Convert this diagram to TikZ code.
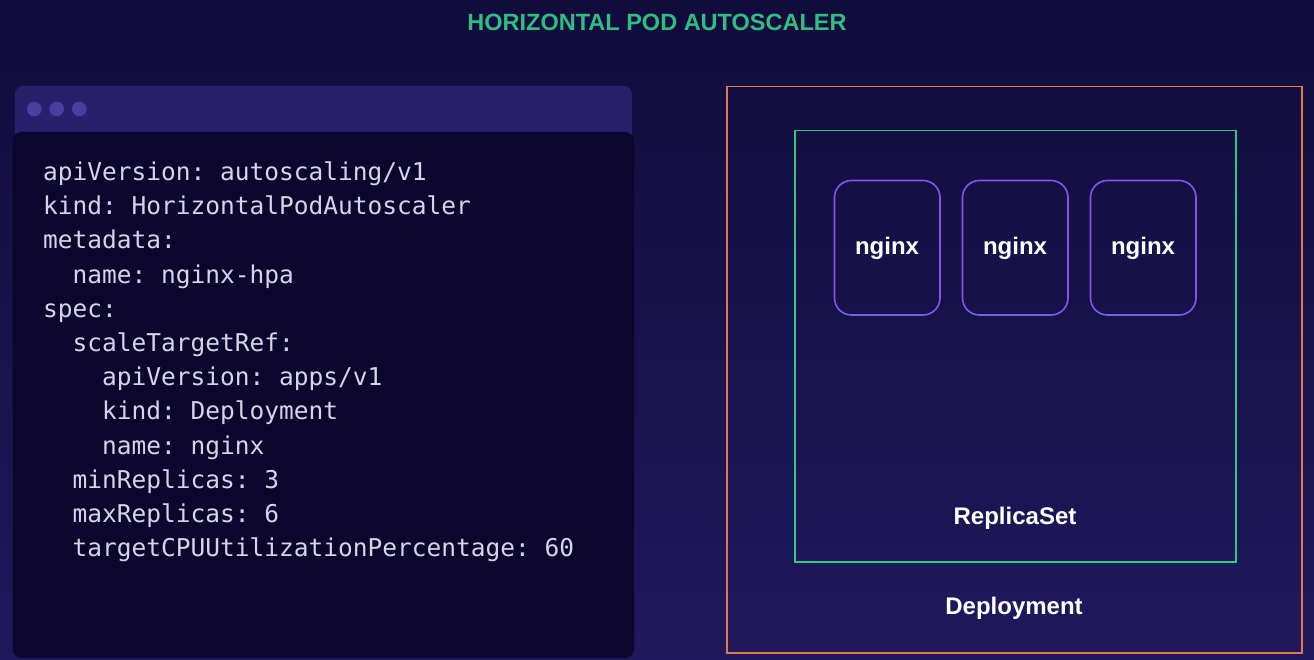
\documentclass[tikz,border=0pt]{standalone}
\usepackage{fontspec}
\setmainfont{Liberation Sans}
\newfontfamily\codefont{DejaVu Sans Mono}
\definecolor{bgtop}{RGB}{17,12,60}
\definecolor{bgbot}{RGB}{31,24,92}
\definecolor{codebg}{RGB}{12,6,46}
\definecolor{headbg}{RGB}{40,32,106}
\definecolor{dotc}{RGB}{74,63,158}
\definecolor{codetext}{RGB}{214,212,230}
\definecolor{titlegreen}{RGB}{46,190,128}
\definecolor{rsgreen}{RGB}{46,200,135}
\definecolor{deporange}{RGB}{222,122,72}
\definecolor{podpurple}{RGB}{130,88,230}
\tikzset{
  codeline/.style={anchor=base west, inner sep=0pt, text=codetext, font=\codefont\frenchspacing\fontsize{24.5}{30}\selectfont},
  label/.style={inner sep=0pt, text=white, font=\bfseries\fontsize{24}{28}\selectfont},
  pod/.style={draw=podpurple, line width=1.6pt, rounded corners=17pt, fill=none},
}
\begin{document}
\begin{tikzpicture}[x=1pt,y=-1pt]
\useasboundingbox (0,0) rectangle (1314,660);
\shade[top color=bgtop, bottom color=bgbot] (0,0) rectangle (1314,660);
% title
\node[inner sep=0pt, text=titlegreen, font=\bfseries\fontsize{23.5}{28}\selectfont] (title) at (657,22) {HORIZONTAL POD AUTOSCALER};
% code window
\fill[headbg, rounded corners=8pt] (15,86) rectangle (632,150);
\fill[codebg, rounded corners=9pt] (12.5,132) rectangle (634,658);
\fill[dotc] (34.3,109) circle (7.3);
\fill[dotc] (56.7,109) circle (7.3);
\fill[dotc] (79.3,109) circle (7.3);
\node[codeline] (l1) at (43,180.5) {apiVersion: autoscaling/v1};
\node[codeline] (l2) at (43,214.7) {kind: HorizontalPodAutoscaler};
\node[codeline] (l3) at (43,248.9) {metadata:};
\node[codeline] (l4) at (72.5,283.1) {name: nginx-hpa};
\node[codeline] (l5) at (43,317.3) {spec:};
\node[codeline] (l6) at (72.5,351.5) {scaleTargetRef:};
\node[codeline] (l7) at (102,385.7) {apiVersion: apps/v1};
\node[codeline] (l8) at (102,419.9) {kind: Deployment};
\node[codeline] (l9) at (102,454.1) {name: nginx};
\node[codeline] (l10) at (72.5,488.3) {minReplicas: 3};
\node[codeline] (l11) at (72.5,522.5) {maxReplicas: 6};
\node[codeline] (l12) at (72.5,556.7) {targetCPUUtilizationPercentage: 60};
% deployment
\draw[deporange, line width=1.8pt] (727,86.5) rectangle (1302,653);
\node[label] (deplabel) at (1014,608) {Deployment};
% replicaset
\draw[rsgreen, line width=1.6pt] (795,130.5) rectangle (1236,562);
\node[label] (rslabel) at (1015,518) {ReplicaSet};
% pods
\draw[pod] (834.5,180.5) rectangle (940,315);
\draw[pod] (962.5,180.5) rectangle (1068,315);
\draw[pod] (1090.5,180.5) rectangle (1196,315);
\node[label] (pod1) at (887,248) {nginx};
\node[label] (pod2) at (1015,248) {nginx};
\node[label] (pod3) at (1143,248) {nginx};
\end{tikzpicture}
\end{document}
